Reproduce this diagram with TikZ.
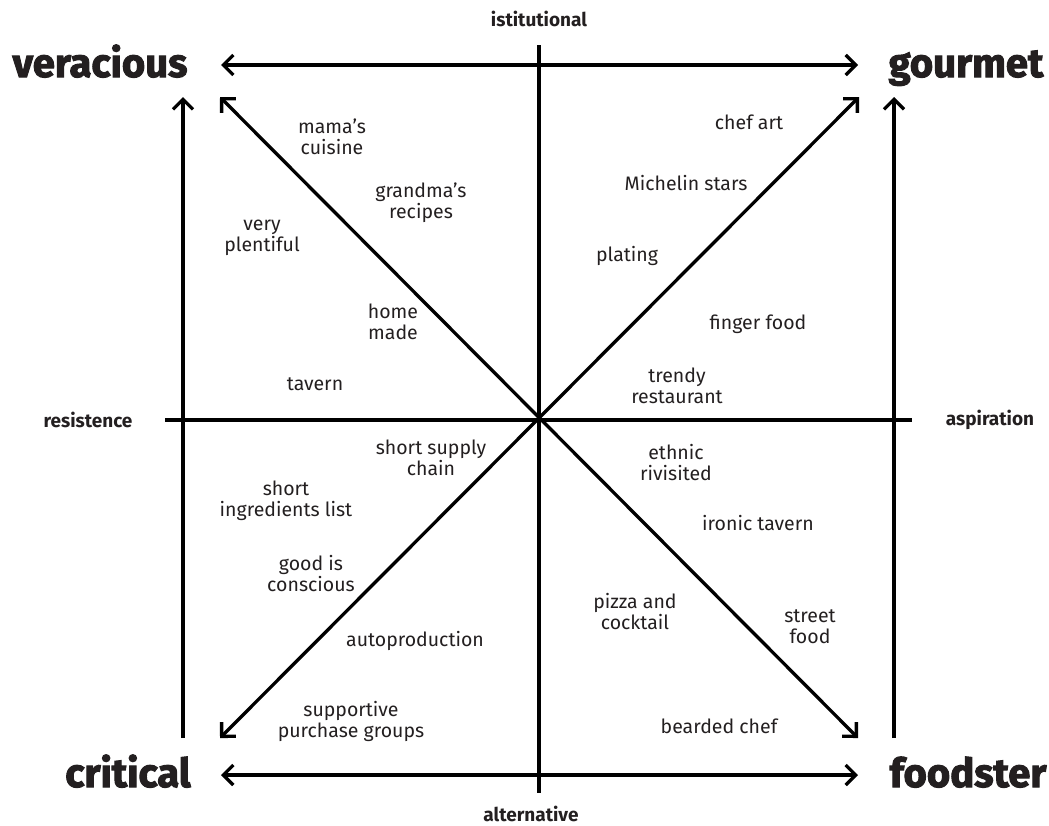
\documentclass[tikz,border=0pt]{standalone}
\usepackage{fontspec}
\setmainfont{Fira Sans}
\newfontfamily\heavyfont[BoldFeatures={FakeBold=2.5}]{Fira Sans}
\usetikzlibrary{arrows.meta}
\definecolor{ink}{HTML}{231F20}
\begin{document}
\begin{tikzpicture}[x=1pt,y=-1pt,
  axis/.style={line width=3.3pt, black},
  arr/.style={line width=3.3pt, black, {Straight Barb[length=10pt,width=20pt,line width=3.3pt]}-{Straight Barb[length=10pt,width=20pt,line width=3.3pt]}},
  uparr/.style={line width=3.3pt, black, -{Straight Barb[length=10pt,width=20pt,line width=3.3pt]}},
  corner/.style={font=\heavyfont\bfseries\fontsize{40}{44}\selectfont, text=ink, inner sep=0pt, anchor=base},
  axlab/.style={font=\bfseries\fontsize{19}{21}\selectfont, text=ink, inner sep=0pt},
  lab/.style={font=\fontsize{19.5}{21}\selectfont, text=ink, align=center, inner sep=0pt}]
\useasboundingbox (0,0) rectangle (1049,825);
% centre
\coordinate (O) at (539,420);
\coordinate (T) at (539,45);
\coordinate (B) at (539,793);
\coordinate (L) at (165,420);
\coordinate (R) at (912,420);
\coordinate (UL) at (220,97);
\coordinate (UR) at (859,97);
\coordinate (LL) at (220,738);
\coordinate (LR) at (858,738);
\coordinate (TA1) at (221,65);
\coordinate (TA2) at (858,65);
\coordinate (BA1) at (221,775);
\coordinate (BA2) at (858,775);
\coordinate (LV1) at (183,738);
\coordinate (LV2) at (183,97);
\coordinate (RV1) at (894,738);
\coordinate (RV2) at (894,97);
% axes
\draw[axis] (T) -- (B);
\draw[axis] (L) -- (R);
\draw[arr] (UL) -- (LR);
\draw[arr] (LL) -- (UR);
\draw[arr] (TA1) -- (TA2);
\draw[arr] (BA1) -- (BA2);
\draw[uparr] (LV1) -- (LV2);
\draw[uparr] (RV1) -- (RV2);
% corner labels
\node[corner] (ver) at (100,77) {veracious};
\node[corner] (gou) at (966,77) {gourmet};
\node[corner] (cri) at (128,787) {critical};
\node[corner] (foo) at (968,787) {foodster};
% axis labels
\node[axlab] (ist) at (539,19) {istitutional};
\node[axlab] (alt) at (531,814) {alternative};
\node[axlab] (res) at (88,420) {resistence};
\node[axlab] (asp) at (990,420) {aspiration};
% items
\node[lab] (n1) at (332,137) {mama’s\\cuisine};
\node[lab] (n2) at (421,203) {grandma’s\\recipes};
\node[lab] (n3) at (262,238) {very\\plentiful};
\node[lab] (n4) at (393,322) {home\\made};
\node[lab] (n5) at (315,384) {tavern};
\node[lab] (n6) at (749,122) {chef art};
\node[lab] (n7) at (686,183) {Michelin stars};
\node[lab] (n8) at (627,256) {plating};
\node[lab] (n9) at (758,324) {finger food};
\node[lab] (n10) at (677,386) {trendy\\restaurant};
\node[lab] (n11) at (431,458) {short supply\\chain};
\node[lab] (n12) at (286,501) {short\\ingredients list};
\node[lab] (n13) at (676,463) {ethnic\\rivisited};
\node[lab] (n14) at (758,523) {ironic tavern};
\node[lab] (n15) at (311,574) {good is\\conscious};
\node[lab] (n16) at (635,612) {pizza and\\cocktail};
\node[lab] (n17) at (810,627) {street\\food};
\node[lab] (n18) at (415,641) {autoproduction};
\node[lab] (n19) at (351,721) {supportive\\purchase groups};
\node[lab] (n20) at (719,726) {bearded chef};
\end{tikzpicture}
\end{document}
